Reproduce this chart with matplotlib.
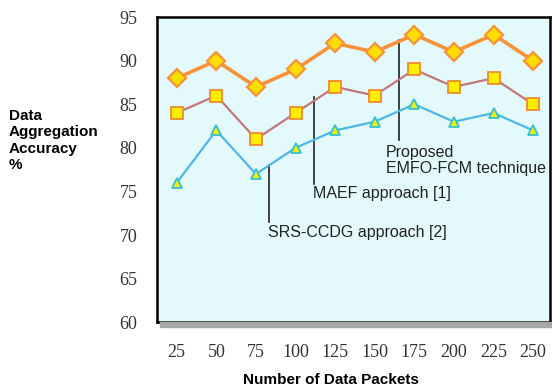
import matplotlib
matplotlib.use("Agg")
import matplotlib.pyplot as plt
from matplotlib.patches import Rectangle

# Chart data
packets = [25, 50, 75, 100, 125, 150, 175, 200, 225, 250]
emfo_fcm = [88, 90, 87, 89, 92, 91, 93, 91, 93, 90]
maef = [84, 86, 81, 84, 87, 86, 89, 87, 88, 85]
srs_ccdg = [76, 82, 77, 80, 82, 83, 85, 83, 84, 82]
y_ticks = [60, 65, 70, 75, 80, 85, 90, 95]

fig = plt.figure(figsize=(5.52, 3.9), dpi=100)
ax = fig.add_axes([0.284, 0.174, 0.712, 0.782])
ax.set_facecolor("#e3f9fb")

ax.plot(packets, srs_ccdg, color="#4db8e6", lw=1.6, marker="^", ms=7,
        mfc="#f2f000", mec="#35c0d8", mew=1.3, zorder=3)
ax.plot(packets, maef, color="#c27878", lw=1.6, marker="s", ms=8,
        mfc="#ffee00", mec="#f08a30", mew=1.3, zorder=3)
ax.plot(packets, emfo_fcm, color="#f7923a", lw=2.6, marker="D", ms=9,
        mfc="#ffdd00", mec="#f7923a", mew=1.6, zorder=3)

ax.set_xlim(12.4, 260.5)
ax.set_ylim(60, 95)
ax.set_xticks(packets)
ax.set_yticks(y_ticks)
ax.tick_params(length=0)
for lbl in ax.get_xticklabels() + ax.get_yticklabels():
    lbl.set_family("Liberation Serif")
    lbl.set_fontsize(13)
    lbl.set_color("#333333")
ax.tick_params(axis="x", pad=16)
ax.tick_params(axis="y", pad=14)

for s in ax.spines.values():
    s.set_linewidth(1.8)
    s.set_color("black")

# shadow along the bottom of the frame
fig.patches.append(Rectangle((0.289, 0.162), 0.711, 0.012, transform=fig.transFigure,
                             color="#a8a8a8", zorder=0))

# annotations
txt = dict(fontsize=11.5, va="top", ha="left", family="Liberation Sans",
           color="#222222")
ax.plot([165.5, 165.5], [92.4, 80.9], color="#222222", lw=1.2)
ax.text(157, 80.3, "Proposed\nEMFO-FCM technique", linespacing=1.05, **txt)
ax.plot([111.7, 111.7], [85.8, 75.9], color="#222222", lw=1.2)
ax.text(111, 75.6, "MAEF approach [1]", **txt)
ax.plot([83.4, 83.4], [78.0, 71.5], color="#222222", lw=1.2)
ax.text(82.5, 71.2, "SRS-CCDG approach [2]", **txt)

fig.text(0.016, 0.64, "Data\nAggregation\nAccuracy\n%", fontsize=11,
         fontweight="bold", family="Liberation Sans", va="center", ha="left",
         linespacing=1.2)
fig.text(0.6, 0.025, "Number of Data Packets", fontsize=11, fontweight="bold",
         family="Liberation Sans", ha="center", va="center")

fig.savefig("out.png", dpi=100)
